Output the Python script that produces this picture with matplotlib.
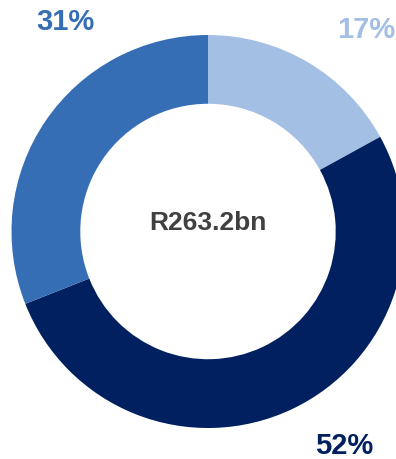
import matplotlib
matplotlib.use("Agg")
import matplotlib.pyplot as plt

# Share of total by segment
segments = ["Segment A", "Segment B", "Segment C"]
shares = [17, 52, 31]
colors = ["#A3BFE4", "#00205F", "#366EB5"]
total_label = "R263.2bn"

plt.rcParams["font.family"] = ["Liberation Sans", "DejaVu Sans"]

W, H = 396, 460
fig = plt.figure(figsize=(W / 100, H / 100), dpi=100)
ax = fig.add_axes([0, 0, 1, 1])

cx, cy = 208, H - 232.5
r_out = 196.5
ring = 0.35 * r_out

ax.pie(shares, colors=colors, startangle=90, counterclock=False,
       center=(cx, cy), radius=r_out,
       wedgeprops=dict(width=ring, linewidth=0), frame=True)
ax.set_xlim(0, W)
ax.set_ylim(0, H)
ax.set_aspect("equal")
ax.axis("off")

ax.text(cx, cy + 9.5, total_label, ha="center", va="center",
        fontsize=19, fontweight="bold", color="#404040")

label_pos = [(366, H - 30), (344, H - 446.5), (65, H - 22.5)]
for (x, y), s, c in zip(label_pos, shares, colors):
    ax.text(x, y, f"{s}%", ha="center", va="center",
            fontsize=21, fontweight="bold", color=c)

fig.savefig("out.png", dpi=100)
